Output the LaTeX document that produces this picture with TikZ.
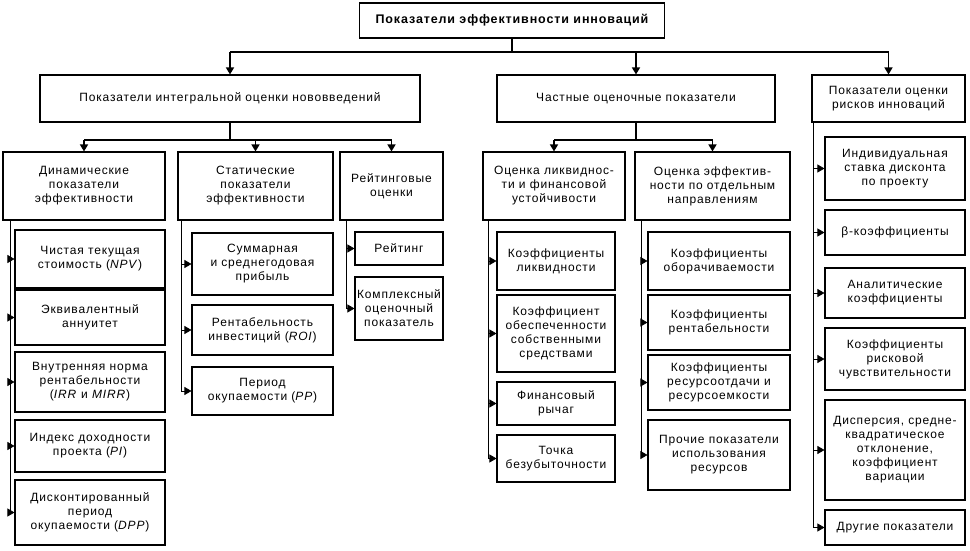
\documentclass[tikz,border=0pt]{standalone}
\usepackage{fontspec}
\setmainfont{Liberation Sans}[LetterSpace=7]
\usetikzlibrary{arrows.meta}
\tikzset{
    box/.style={draw, line width=1.1pt, fill=white, align=center, inner sep=1pt, font=\fontsize{12}{14}\selectfont},
    bus/.style={line width=1.5pt},
    side/.style={line width=0.6pt},
    tip/.style={-{Triangle[width=8pt,length=7pt]}}
}
\begin{document}
\begin{tikzpicture}[x=1pt, y=-1pt]
            \useasboundingbox (0,0) rectangle (970,551);

            \node[box, minimum width=305, minimum height=35, font=\bfseries\fontsize{12.5}{14}\selectfont] (top) at (512,20.5) {Показатели эффективности инноваций};

            \node[box, minimum width=380, minimum height=47] (integr) at (230,98.5) {Показатели интегральной оценки нововведений};
            \node[box, minimum width=278, minimum height=47] (partial) at (636,98.5) {Частные оценочные показатели};
            \node[box, minimum width=153, minimum height=47] (risk) at (888.5,98.5) {Показатели оценки\\рисков инноваций};

            \node[box, minimum width=162, minimum height=68] (dyn) at (84,186) {Динамические\\показатели\\эффективности};
            \node[box, minimum width=155, minimum height=68] (stat) at (255.5,186) {Статические\\показатели\\эффективности};
            \node[box, minimum width=103, minimum height=68] (rate) at (391.5,186) {Рейтинговые\\оценки};
            \node[box, minimum width=142, minimum height=68] (liq) at (554,186) {Оценка ликвиднос-\\ти и финансовой\\устойчивости};
            \node[box, minimum width=155, minimum height=68] (eff) at (712.5,186) {Оценка эффектив-\\ности по отдельным\\направлениям};

            \node[box, minimum width=150, minimum height=58] (npv) at (90,259) {Чистая текущая\\стоимость (\textit{NPV})};
            \node[box, minimum width=150, minimum height=55] (ann) at (90,317.5) {Эквивалентный\\аннуитет};
            \node[box, minimum width=150, minimum height=60] (irr) at (90,382) {Внутренняя норма\\рентабельности\\(\textit{IRR} и \textit{MIRR})};
            \node[box, minimum width=150, minimum height=52] (pi) at (90,446) {Индекс доходности\\проекта (\textit{PI})};
            \node[box, minimum width=150, minimum height=65] (dpp) at (90,512.5) {Дисконтированный\\период\\окупаемости (\textit{DPP})};

            \node[box, minimum width=141, minimum height=62] (prof) at (262.5,264) {Суммарная\\и среднегодовая\\прибыль};
            \node[box, minimum width=141, minimum height=50] (roi) at (262.5,330) {Рентабельность\\инвестиций (\textit{ROI})};
            \node[box, minimum width=141, minimum height=48] (pp) at (262.5,391) {Период\\окупаемости (\textit{PP})};

            \node[box, minimum width=88, minimum height=33] (rank) at (399,248.5) {Рейтинг};
            \node[box, minimum width=88, minimum height=63] (compl) at (399,308.5) {Комплексный\\оценочный\\показатель};

            \node[box, minimum width=118, minimum height=58] (kliq) at (556,261) {Коэффициенты\\ликвидности};
            \node[box, minimum width=118, minimum height=77] (kown) at (556,333.5) {Коэффициент\\обеспеченности\\собственными\\средствами};
            \node[box, minimum width=118, minimum height=43] (lev) at (556,403.5) {Финансовый\\рычаг};
            \node[box, minimum width=118, minimum height=47] (bep) at (556,458.5) {Точка\\безубыточности};

            \node[box, minimum width=142, minimum height=58] (turn) at (719,261) {Коэффициенты\\оборачиваемости};
            \node[box, minimum width=142, minimum height=55] (rent) at (719,322.5) {Коэффициенты\\рентабельности};
            \node[box, minimum width=142, minimum height=55] (res) at (719,382.5) {Коэффициенты\\ресурсоотдачи и\\ресурсоемкости};
            \node[box, minimum width=142, minimum height=70] (other) at (719,455) {Прочие показатели\\использования\\ресурсов};

            \node[box, minimum width=140, minimum height=63] (disc) at (895,168.5) {Индивидуальная\\ставка дисконта\\по проекту};
            \node[box, minimum width=140, minimum height=45] (beta) at (895,232.5) {β-коэффициенты};
            \node[box, minimum width=140, minimum height=50] (anal) at (895,293) {Аналитические\\коэффициенты};
            \node[box, minimum width=140, minimum height=62] (sens) at (895,359) {Коэффициенты\\рисковой\\чувствительности};
            \node[box, minimum width=140, minimum height=100] (disp) at (895,450) {Дисперсия, средне-\\квадратическое\\отклонение,\\коэффициент\\вариации};
            \node[box, minimum width=140, minimum height=35] (rest) at (895,527.5) {Другие показатели};

            % upper buses
            \coordinate (bus0) at (512,52);
            \coordinate (bus1) at (230,140);
            \coordinate (bus2) at (636,140);
            \draw[bus] (top.south) -- (bus0);
            \draw[bus] (integr.north |- bus0) -- (risk.north |- bus0);
            \draw[bus, tip] (integr.north |- bus0) -- (integr.north);
            \draw[bus, tip] (partial.north |- bus0) -- (partial.north);
            \draw[bus, tip] (risk.north |- bus0) -- (risk.north);

            \draw[bus] (integr.south) -- (bus1);
            \draw[bus] (dyn.north |- bus1) -- (rate.north |- bus1);
            \draw[bus, tip] (dyn.north |- bus1) -- (dyn.north);
            \draw[bus, tip] (stat.north |- bus1) -- (stat.north);
            \draw[bus, tip] (rate.north |- bus1) -- (rate.north);

            \draw[bus] (partial.south) -- (bus2);
            \draw[bus] (liq.north |- bus2) -- (eff.north |- bus2);
            \draw[bus, tip] (liq.north |- bus2) -- (liq.north);
            \draw[bus, tip] (eff.north |- bus2) -- (eff.north);

            % side lines
            \coordinate (dynline) at (10,220);
            \coordinate (statline) at (181,220);
            \coordinate (rateline) at (346,220);
            \coordinate (liqline) at (488,220);
            \coordinate (effline) at (641,220);
            \coordinate (riskline) at (813,122);
            \draw[side] (dynline) -- (dynline |- dpp.west);
            \draw[side] (statline) -- (statline |- pp.west);
            \draw[side] (rateline) -- (rateline |- compl.west);
            \draw[side] (liqline) -- (liqline |- bep.west);
            \draw[side] (effline) -- (effline |- other.west);
            \draw[side] (riskline) -- (riskline |- rest.west);

            \foreach \n in {npv, ann, irr, pi, dpp}
                \draw[side, tip] (dynline |- \n.west) -- (\n.west);
            \foreach \n in {prof, roi, pp}
                \draw[side, tip] (statline |- \n.west) -- (\n.west);
            \foreach \n in {rank, compl}
                \draw[side, tip] (rateline |- \n.west) -- (\n.west);
            \foreach \n in {kliq, kown, lev, bep}
                \draw[side, tip] (liqline |- \n.west) -- (\n.west);
            \foreach \n in {turn, rent, res, other}
                \draw[side, tip] (effline |- \n.west) -- (\n.west);
            \foreach \n in {disc, beta, anal, sens, disp, rest}
                \draw[side, tip] (riskline |- \n.west) -- (\n.west);
\end{tikzpicture}
\end{document}
